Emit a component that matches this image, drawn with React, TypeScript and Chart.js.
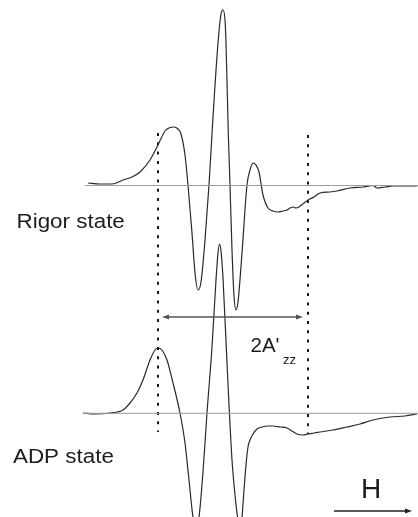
import { useEffect, useRef } from "react";
import { Chart, registerables } from "chart.js";

Chart.register(...registerables);

// Magnetic field (arbitrary units, increasing to the right)
const fieldRigor = [88,100,112,123,132,140,150,158,165,170,174,178,181,185,188,192,195,198,201,205,209,213,218,221,223,225,226,228.3,230,232,234,236,238,242,247,250,253,256,259,263,268,273,278,283,287,290,293,296,299,304,308,314,320,330,337,350,363,373,377,385,393,405,417];
// EPR first-derivative signal, rigor state (arbitrary units)
const signalRigor = [2.5,1.5,1.5,5.5,8.5,13.5,25.5,40.5,54.5,58,58.5,56.5,51.5,30.5,0.5,-47.5,-87.5,-104.5,-96.5,-54.5,0.5,68.5,142.5,171.5,175.5,165.5,142.5,52.5,0.5,-64.5,-110.5,-124.5,-116.5,-67.5,0.5,15.5,22.5,20.5,13.5,-9.5,-22.5,-25.5,-26.5,-25.5,-24.5,-22.5,-21.5,-22.5,-21.5,-17.5,-14.5,-11.5,-7.5,-6.5,-5.5,-2.5,-1.5,0,-2.5,-1.5,-0.5,-0.5,-0.5];

const fieldADP = [83,95,110,123,130,137,143,150,155,158,162,167,173,180,185,189,193,196,199,203,207,212,216,218,219.5,221,223,227,229,232,235,238,240,242,244,246,248,250,253,257,262,268,273,280,287,292,297,303,308,314,320,333,347,360,373,390,405,417];
// EPR first-derivative signal, ADP state (arbitrary units)
const signalADP = [0.3,-0.7,0.3,3.3,10.3,20.3,33.3,53.3,63.3,65.3,63.3,53.3,30.3,0.3,-29.7,-66.7,-103.7,-112.7,-103.7,-58.7,0.3,66.3,133.3,160.3,169.3,162.3,135.3,50.3,8.3,-46.7,-81.7,-106.7,-113.7,-103.7,-76.7,-51.7,-33.7,-26.7,-20.7,-15.7,-13.7,-12.7,-12.7,-13.7,-14.7,-17.7,-20.7,-21.7,-20.7,-19.7,-18.7,-16.7,-13.7,-10.7,-6.7,-3.7,-2.7,-0.7];

// Baseline extents (field units)
const baselineRigor = [85, 418];
const baselineADP = [83, 418];

// 2A'zz marker positions (field) and their vertical extents (plot units)
const markerField = [158, 308];
const markerTop = [384, 382];
const markerBottom = [85, 83];

const labels = ["Rigor state", "ADP state", "2A'", "zz", "H"];

// vertical placement of the two spectra (plot units)
const OFFSET_RIGOR = 331.5;
const OFFSET_ADP = 103.7;

export default function App() {
  const ref = useRef<HTMLCanvasElement>(null);

  useEffect(() => {
    const canvas = ref.current;
    if (!canvas) return;

    const pts = (xs: number[], ys: number[], off: number) =>
      xs.map((x, i) => ({ x, y: ys[i] + off }));
    const line = (xs: number[], y: number) => xs.map((x) => ({ x, y }));

    const font = (s: number) => `${s}px "Liberation Sans", Arial, Helvetica, sans-serif`;

    const arrowHead = (ctx: CanvasRenderingContext2D, x: number, y: number, dir: number, len: number, hw: number) => {
      ctx.beginPath();
      ctx.moveTo(x, y);
      ctx.lineTo(x - dir * len, y - hw);
      ctx.lineTo(x - dir * len, y + hw);
      ctx.closePath();
      ctx.fill();
    };

    const annot = {
      id: "annot",
      afterDatasetsDraw(chart: any) {
        const ctx: CanvasRenderingContext2D = chart.ctx;
        const xs = chart.scales.x;
        const ys = chart.scales.y;
        ctx.save();

        // double arrow between markers
        const ay = ys.getPixelForValue(200);
        const ax1 = xs.getPixelForValue(markerField[0] + 4);
        const ax2 = xs.getPixelForValue(markerField[1] - 5);
        ctx.strokeStyle = "#555";
        ctx.fillStyle = "#555";
        ctx.lineWidth = 1.5;
        ctx.beginPath();
        ctx.moveTo(ax1 + 3, ay);
        ctx.lineTo(ax2 - 3, ay);
        ctx.stroke();
        arrowHead(ctx, ax1, ay, -1, 7, 2.6);
        arrowHead(ctx, ax2, ay, 1, 7, 2.6);

        // texts
        ctx.fillStyle = "#1c1c1c";
        ctx.textBaseline = "alphabetic";
        const stretched = (t: string, x: number, y: number, size: number, sx: number) => {
          ctx.save();
          ctx.translate(x, y);
          ctx.scale(sx, 1);
          ctx.font = font(size);
          ctx.fillText(t, 0, 0);
          ctx.restore();
        };
        stretched(labels[0], 16.5, 228, 20, 1.12);
        stretched(labels[1], 13, 463, 20, 1.12);
        stretched(labels[2], 250.5, 352, 20.5, 1);
        stretched(labels[3], 283, 363.5, 13, 1);
        stretched(labels[4], 361, 498, 28, 1);

        // field direction arrow
        ctx.strokeStyle = "#222";
        ctx.fillStyle = "#222";
        ctx.lineWidth = 1.3;
        ctx.beginPath();
        ctx.moveTo(334, 511);
        ctx.lineTo(407, 511);
        ctx.stroke();
        arrowHead(ctx, 412, 511, 1, 7, 2.5);

        ctx.restore();
      },
    };

    const traceStyle = {
      borderColor: "#2a2a2a",
      borderWidth: 1.2,
      pointRadius: 0,
      cubicInterpolationMode: "monotone" as const,
      fill: false,
    };
    const baseStyle = {
      borderColor: "#9a9a9a",
      borderWidth: 1,
      pointRadius: 0,
      fill: false,
    };
    const markStyle = {
      borderColor: "#1a1a1a",
      borderWidth: 2,
      borderDash: [3, 6.3],
      pointRadius: 0,
      fill: false,
    };

    const chart = new Chart(canvas, {
      type: "line",
      data: {
        datasets: [
          { ...baseStyle, data: line(baselineRigor, OFFSET_RIGOR) },
          { ...baseStyle, data: line(baselineADP, OFFSET_ADP) },
          { ...traceStyle, data: pts(fieldRigor, signalRigor, OFFSET_RIGOR) },
          { ...traceStyle, data: pts(fieldADP, signalADP, OFFSET_ADP) },
          ...markerField.map((f, i) => ({
            ...markStyle,
            data: [
              { x: f, y: markerTop[i] },
              { x: f, y: markerBottom[i] },
            ],
          })),
        ],
      },
      options: {
        animation: false,
        responsive: false,
        events: [],
        layout: { padding: 0 },
        plugins: { legend: { display: false }, tooltip: { enabled: false } },
        scales: {
          x: { type: "linear", min: 0, max: 418, display: false },
          y: { type: "linear", min: 0, max: 517, display: false },
        },
      },
      plugins: [annot],
    } as any);

    return () => chart.destroy();
  }, []);

  return (
    <div style={{ position: "absolute", left: 0, top: 0, width: 418, height: 517, background: "#fff" }}>
      <canvas ref={ref} width={418} height={517} style={{ display: "block", width: 418, height: 517 }} />
    </div>
  );
}
